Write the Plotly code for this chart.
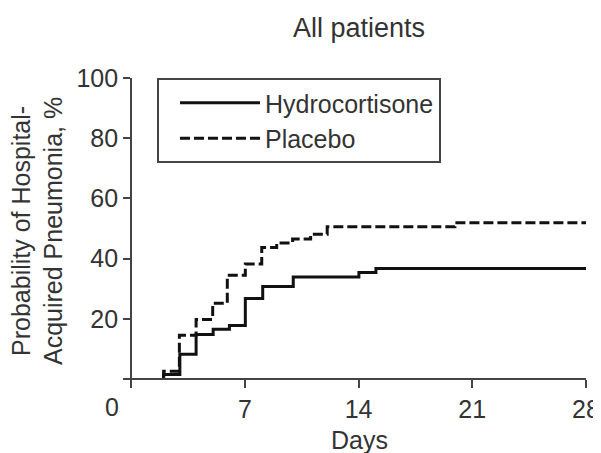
import plotly.graph_objects as go

# Data (days, cumulative probability %)
hc_days = [2.0, 2.0, 3.0, 4.0, 5.05, 6.05, 7.03, 8.1, 9.98, 14.02, 15.07, 28.0]
hc_vals = [0.0, 1.5, 8.2, 14.8, 16.5, 17.8, 26.7, 30.7, 33.9, 35.4, 36.7, 36.7]

pl_days = [2.0, 2.0, 2.97, 4.0, 5.02, 5.92, 7.03, 8.04, 8.96, 9.94, 11.05, 12.07, 19.93, 28.0]
pl_vals = [0.0, 2.6, 14.5, 19.8, 25.2, 34.5, 38.2, 43.7, 45.2, 46.5, 48.1, 50.6, 51.9, 51.9]

x_ticks = [0, 7, 14, 21, 28]
x_ticktext = ["", "7", "14", "21", "28"]
y_ticks = [20, 40, 60, 80, 100]

FONT = "Liberation Sans, Arial, Helvetica, sans-serif"
TXT = "#333333"
AX = "#444444"
FS = 25

fig = go.Figure()
fig.add_trace(go.Scatter(x=hc_days, y=hc_vals, mode="lines", name="Hydrocortisone",
                         line=dict(color="#111111", width=3, shape="hv")))
fig.add_trace(go.Scatter(x=pl_days, y=pl_vals, mode="lines", name="Placebo",
                         line=dict(color="#111111", width=3, shape="hv", dash="10px,4px")))

x_range = [-0.5, 28]
y_range = [-3, 100]

# The page body has an 8px margin, so the figure is sized to fit the window.
fig.update_layout(
    width=593, height=445,
    margin=dict(l=115, r=15, t=70, b=65, autoexpand=False),
    paper_bgcolor="white", plot_bgcolor="white",
    font=dict(family=FONT, size=FS, color=TXT),
    title=dict(text="All patients", x=0.592, xanchor="center", y=0.957, yanchor="middle",
               font=dict(size=27, color=TXT)),
    showlegend=True,
    legend=dict(x=0.0734, y=1.0, xanchor="left", yanchor="top",
                bordercolor=AX, borderwidth=2, bgcolor="white", indentation=16,
                font=dict(size=FS, color=TXT), itemwidth=80, tracegroupgap=0),
    xaxis=dict(range=x_range, tickvals=x_ticks, ticktext=x_ticktext, automargin=False,
               showgrid=False, zeroline=False, showline=True, linecolor=AX, linewidth=2,
               ticks="outside", ticklen=8, tickwidth=2, tickcolor=AX,
               anchor="free", position=3 / 103, tickfont=dict(size=FS, color=TXT)),
    yaxis=dict(range=y_range, tickvals=y_ticks, automargin=False,
               showgrid=False, zeroline=False, showline=True, linecolor=AX, linewidth=2,
               ticks="outside", ticklen=7, tickwidth=2, tickcolor=AX,
               anchor="free", position=0.5 / 28.5, tickfont=dict(size=FS, color=TXT)),
)

fig.add_annotation(text="0", xref="paper", yref="paper", x=-0.0238, y=-0.06,
                   xanchor="center", yanchor="middle", showarrow=False,
                   font=dict(size=FS, color=TXT))
fig.add_annotation(text="Days", xref="paper", yref="paper", x=0.510, y=-0.169,
                   xanchor="center", yanchor="middle", showarrow=False,
                   font=dict(size=FS, color=TXT))
fig.add_annotation(text="Probability of Hospital-<br>Acquired Pneumonia, %",
                   xref="paper", yref="paper", x=-0.186, y=0.506,
                   xanchor="center", yanchor="middle", textangle=-90, showarrow=False,
                   font=dict(size=FS, color=TXT))

fig.write_html("out.html")
